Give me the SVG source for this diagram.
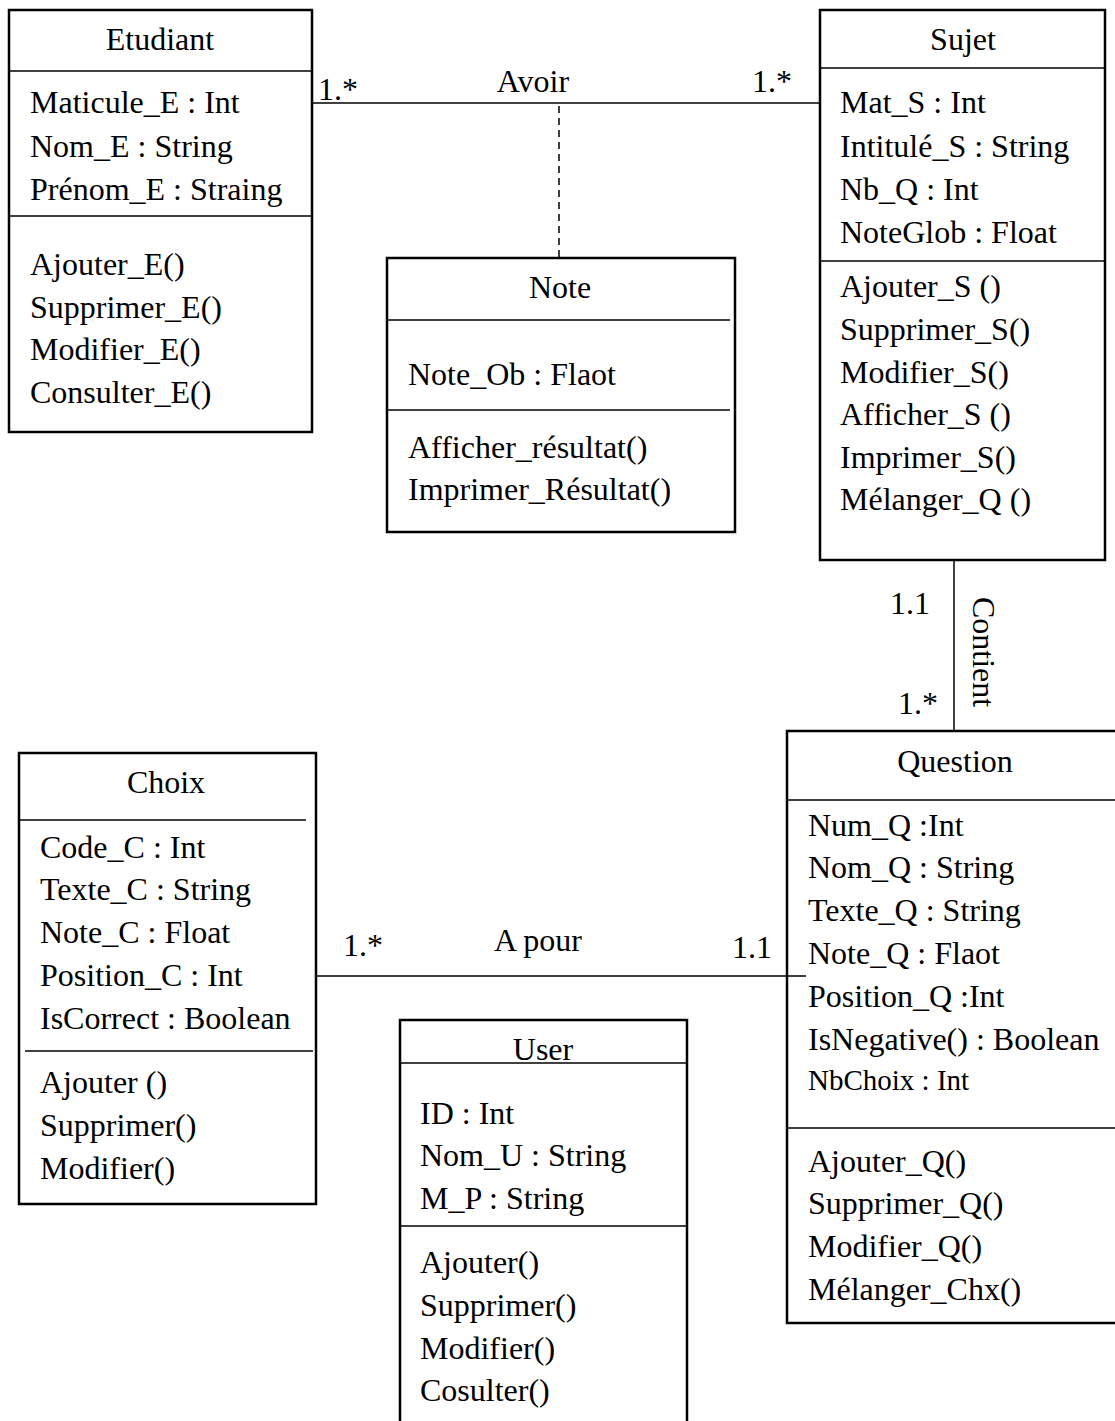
<svg xmlns="http://www.w3.org/2000/svg" width="1115" height="1421" viewBox="0 0 1115 1421">
  <style>
    text { font-family: "Liberation Serif", "Times New Roman", serif; font-size: 32px; fill: #000; }
    .title { text-anchor: middle; }
    .small { font-size: 29px; }
    .box { fill: #fff; stroke: #000; stroke-width: 2.5; }
    .div { stroke: #000; stroke-width: 1.3; }
    .link { stroke: #000; stroke-width: 1.5; fill: none; }
    .dash { stroke: #000; stroke-width: 1.5; stroke-dasharray: 7 5; fill: none; }
  </style>
  <rect width="1115" height="1421" fill="#fff"/>

  <g id="etudiant">
    <rect class="box" x="9" y="10" width="303" height="422"/>
    <line class="div" x1="9" y1="71" x2="312" y2="71"/>
    <line class="div" x1="9" y1="216" x2="312" y2="216"/>
    <text class="title" x="160" y="50">Etudiant</text>
    <text x="30" y="113">Maticule_E : Int</text>
    <text x="30" y="157">Nom_E : String</text>
    <text x="30" y="200">Prénom_E : Straing</text>
    <text x="30" y="275">Ajouter_E()</text>
    <text x="30" y="318">Supprimer_E()</text>
    <text x="30" y="360">Modifier_E()</text>
    <text x="30" y="403">Consulter_E()</text>
  </g>

  <g id="note">
    <rect class="box" x="387" y="258" width="348" height="274"/>
    <line class="div" x1="387" y1="320" x2="730" y2="320"/>
    <line class="div" x1="387" y1="410" x2="730" y2="410"/>
    <text class="title" x="560" y="298">Note</text>
    <text x="408" y="385">Note_Ob : Flaot</text>
    <text x="408" y="458">Afficher_résultat()</text>
    <text x="408" y="500">Imprimer_Résultat()</text>
  </g>

  <g id="sujet">
    <rect class="box" x="820" y="10" width="285" height="550"/>
    <line class="div" x1="820" y1="68" x2="1105" y2="68"/>
    <line class="div" x1="820" y1="261" x2="1105" y2="261"/>
    <text class="title" x="963" y="50">Sujet</text>
    <text x="840" y="113">Mat_S : Int</text>
    <text x="840" y="157">Intitulé_S : String</text>
    <text x="840" y="200">Nb_Q : Int</text>
    <text x="840" y="243">NoteGlob : Float</text>
    <text x="840" y="297">Ajouter_S ()</text>
    <text x="840" y="340">Supprimer_S()</text>
    <text x="840" y="383">Modifier_S()</text>
    <text x="840" y="425">Afficher_S ()</text>
    <text x="840" y="468">Imprimer_S()</text>
    <text x="840" y="510">Mélanger_Q ()</text>
  </g>

  <g id="question">
    <rect class="box" x="787" y="731" width="340" height="592"/>
    <line class="div" x1="787" y1="800" x2="1115" y2="800"/>
    <line class="div" x1="787" y1="1128" x2="1115" y2="1128"/>
    <text class="title" x="955" y="772">Question</text>
    <text x="808" y="836">Num_Q :Int</text>
    <text x="808" y="878">Nom_Q : String</text>
    <text x="808" y="921">Texte_Q : String</text>
    <text x="808" y="964">Note_Q : Flaot</text>
    <text x="808" y="1007">Position_Q :Int</text>
    <text x="808" y="1050">IsNegative() : Boolean</text>
    <text class="small" x="808" y="1090">NbChoix : Int</text>
    <text x="808" y="1172">Ajouter_Q()</text>
    <text x="808" y="1214">Supprimer_Q()</text>
    <text x="808" y="1257">Modifier_Q()</text>
    <text x="808" y="1300">Mélanger_Chx()</text>
  </g>

  <g id="choix">
    <rect class="box" x="19" y="753" width="297" height="451"/>
    <line class="div" x1="19" y1="820" x2="306" y2="820"/>
    <line class="div" x1="25" y1="1051" x2="313" y2="1051"/>
    <text class="title" x="166" y="793">Choix</text>
    <text x="40" y="858">Code_C : Int</text>
    <text x="40" y="900">Texte_C : String</text>
    <text x="40" y="943">Note_C : Float</text>
    <text x="40" y="986">Position_C : Int</text>
    <text x="40" y="1029">IsCorrect : Boolean</text>
    <text x="40" y="1093">Ajouter ()</text>
    <text x="40" y="1136">Supprimer()</text>
    <text x="40" y="1179">Modifier()</text>
  </g>

  <g id="user">
    <rect class="box" x="400" y="1020" width="287" height="420"/>
    <line class="div" x1="400" y1="1063" x2="687" y2="1063"/>
    <line class="div" x1="400" y1="1226" x2="687" y2="1226"/>
    <text class="title" x="543" y="1060">User</text>
    <text x="420" y="1124">ID : Int</text>
    <text x="420" y="1166">Nom_U : String</text>
    <text x="420" y="1209">M_P : String</text>
    <text x="420" y="1273">Ajouter()</text>
    <text x="420" y="1316">Supprimer()</text>
    <text x="420" y="1359">Modifier()</text>
    <text x="420" y="1401">Cosulter()</text>
  </g>

  <!-- associations, drawn over the boxes -->
  <g id="connectors">
    <line class="link" x1="312" y1="103" x2="820" y2="103"/>
    <text x="318" y="100">1.*</text>
    <text class="title" x="533" y="92">Avoir</text>
    <text x="752" y="92">1.*</text>
    <line class="dash" x1="559" y1="106" x2="559" y2="257"/>

    <line class="link" x1="954" y1="561" x2="954" y2="731"/>
    <text x="890" y="614">1.1</text>
    <text x="898" y="714">1.*</text>
    <text class="title" transform="translate(973 652) rotate(90)">Contient</text>

    <line class="link" x1="316" y1="976" x2="806" y2="976"/>
    <text x="343" y="956">1.*</text>
    <text class="title" x="538" y="951">A pour</text>
    <text x="732" y="958">1.1</text>
  </g>
</svg>
